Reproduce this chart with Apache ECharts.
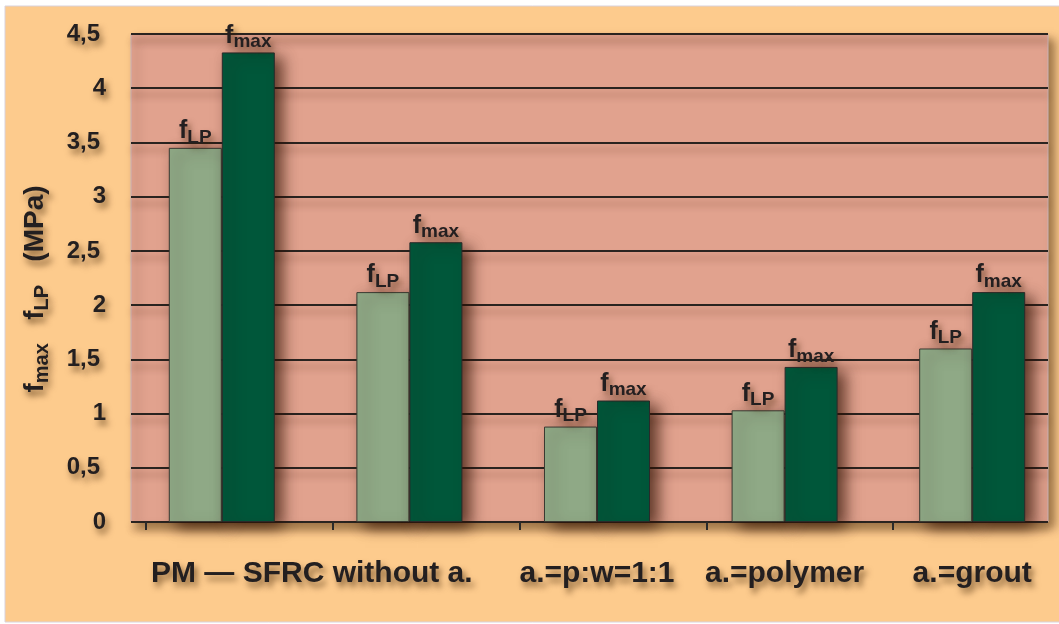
<!DOCTYPE html>
<html>
<head>
<meta charset="utf-8">
<script src="https://cdn.jsdelivr.net/npm/echarts@6/dist/echarts.min.js"></script>
<style>
html,body{margin:0;padding:0;background:#ffffff;}
#chart{width:1059px;height:624px;}
</style>
</head>
<body>
<div id="chart"></div>
<script>
// ---- data ----
const categories = ["PM", "SFRC without a.", "a.=p:w=1:1", "a.=polymer", "a.=grout"];
const xLabels = ["PM \u2014 SFRC without a.", "", "a.=p:w=1:1", "a.=polymer", "a.=grout"];
const fLP  = [3.45, 2.12, 0.88, 1.03, 1.60];
const fMax = [4.33, 2.58, 1.12, 1.43, 2.12];
const yMin = 0, yMax = 4.5, yStep = 0.5;

// ---- style ----
const PEACH = '#FDCB8D', PLOT = '#E1A28E', LIGHT = '#8FA986', DARK = '#00573A', INK = '#231F20';
const SH = {textShadowColor:'rgba(60,30,0,0.6)', textShadowBlur:6, textShadowOffsetX:3, textShadowOffsetY:5};
const FONT = 'Liberation Sans, Arial, Helvetica, sans-serif';

function subRich(main, sub, padTop){
  return {
    f: Object.assign({fontFamily:FONT, fontSize:main, fontWeight:'bold', color:INK, lineHeight:main+3, verticalAlign:'top'}, SH),
    s: Object.assign({fontFamily:FONT, fontSize:sub, fontWeight:'bold', color:INK, lineHeight:sub+1, verticalAlign:'bottom', padding:[padTop,0,0,0]}, SH)
  };
}

const chart = echarts.init(document.getElementById('chart'), null, {renderer:'canvas'});

const xData = categories.map((c, i) => ({
  value: c,
  textStyle: i === 0 ? {padding:[0,0,0,180]} : {}
}));

const barShadow = {shadowColor:'rgba(45,15,0,0.7)', shadowBlur:14, shadowOffsetX:8, shadowOffsetY:5};

const option = {
  backgroundColor: '#ffffff',
  animation: false,
  graphic: [{
    type:'rect', z:-10, silent:true,
    shape:{x:5, y:6, width:1060, height:616},
    style:{fill:PEACH, stroke:'#d9d2dc', lineWidth:1}
  }],
  grid: [
    { left:128, top:34, width:938, height:488, outerBoundsMode:'none', containLabel:false },
    { left:131, top:34, width:917, height:488, show:true, backgroundColor:PLOT,
      borderWidth:1, borderColor:'#c9b3b8',
      shadowColor:'rgba(60,30,0,0.5)', shadowBlur:9, shadowOffsetX:6, shadowOffsetY:6,
      outerBoundsMode:'none', containLabel:false },
    { left:146, top:34, width:934, height:488, outerBoundsMode:'none', containLabel:false }
  ],
  xAxis: [
    {
      gridIndex:0, type:'category', data:xData,
      axisLine:{show:false}, axisTick:{show:false},
      axisLabel:Object.assign({
        show:true, margin:37, fontFamily:FONT, fontSize:30, fontWeight:'bold', color:INK,
        interval:0, formatter:(v, i) => xLabels[i]
      }, SH)
    },
    { gridIndex:1, type:'category', data:categories, show:false },
    {
      gridIndex:2, type:'category', data:categories,
      axisLine:{show:false}, axisLabel:{show:false},
      axisTick:{show:true, length:8, lineStyle:{color:'#2a2a2a', width:2}}
    }
  ],
  yAxis: [
    {
      gridIndex:0, type:'value', min:yMin, max:yMax, interval:yStep,
      axisLine:{show:false}, axisTick:{show:false}, splitLine:{show:false},
      axisLabel:{
        margin:22,
        formatter:v => {
          const s = String(v).replace('.', ',');
          return Number.isInteger(v) ? '{i|' + s + '}' : '{h|' + s + '}';
        },
        rich:{
          i:Object.assign({fontFamily:FONT, fontSize:24, fontWeight:'bold', color:INK}, SH),
          h:Object.assign({fontFamily:FONT, fontSize:24, fontWeight:'bold', color:INK, padding:[0,6,0,0]}, SH)
        }
      },
      name:'{f|f}{s|max}   {f|f}{s|LP}   {f|(MPa)}',
      nameLocation:'middle', nameGap:76, nameMoveOverlap:false,
      nameTextStyle:{fontFamily:FONT, fontSize:28, fontWeight:'bold', color:INK, padding:[0,22,0,0], rich:subRich(28, 20, 17)}
    },
    {
      gridIndex:1, type:'value', min:yMin, max:yMax, interval:yStep,
      axisLine:{show:false}, axisTick:{show:false}, axisLabel:{show:false},
      splitLine:{show:true, lineStyle:{color:'#2a2420', width:2,
        shadowColor:'rgba(70,30,10,0.4)', shadowBlur:7, shadowOffsetY:7}}
    },
    { gridIndex:2, type:'value', min:yMin, max:yMax, show:false }
  ],
  series: [
    {
      name:'fLP', type:'bar', xAxisIndex:0, yAxisIndex:0, data:fLP,
      barWidth:53, barGap:'0%',
      itemStyle:Object.assign({color:LIGHT, borderColor:'#3a3a32', borderWidth:1}, barShadow),
      label:{show:true, position:'top', distance:1, formatter:'{f|f}{s|LP}', rich:subRich(25, 19, 16)}
    },
    {
      name:'fmax', type:'bar', xAxisIndex:0, yAxisIndex:0, data:fMax,
      barWidth:53, barGap:'0%',
      itemStyle:Object.assign({color:DARK, borderColor:'#2a2a2a', borderWidth:1}, barShadow),
      label:{show:true, position:'top', distance:1, formatter:'{f|f}{s|max}', rich:subRich(25, 19, 16)}
    }
  ]
};
chart.setOption(option);
</script>
</body>
</html>
